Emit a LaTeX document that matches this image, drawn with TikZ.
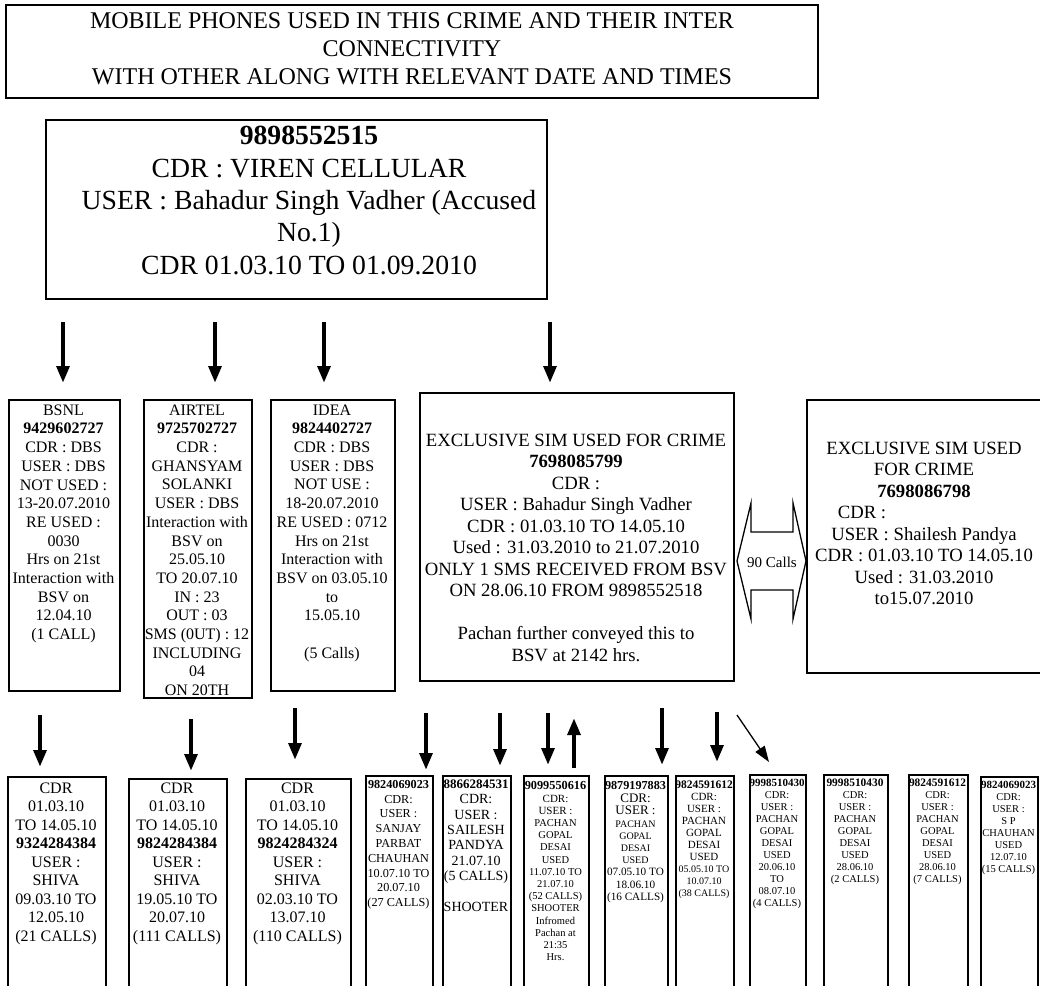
\documentclass[tikz,border=0pt]{standalone}
\usepackage{fontspec}
\setmainfont{Liberation Serif}
\usetikzlibrary{arrows.meta}
\newcommand\myfs[2]{\fontsize{#1}{#2}\selectfont}
\tikzset{
  box/.style={draw, line width=1.6pt, inner sep=0pt, anchor=north west},
  txt/.style={align=center, inner sep=0pt, anchor=north},
  bigarrow/.style={line width=4.5pt, -{Triangle[length=17pt,width=12.5pt]}},
  thinarrow/.style={line width=1.3pt, -{Triangle[length=16pt,width=11pt]}},
}
\begin{document}
\begin{tikzpicture}[x=1pt,y=-1pt]
\clip (0,0) rectangle (1040,985);
\fill[white] (0,0) rectangle (1040,985);

% header
\node[box, minimum width=812pt, minimum height=93pt] (hdr) at (5,4) {};
\node[txt, font=\myfs{24}{28}] (hdrt) at (412,12.6) {MOBILE PHONES USED IN THIS CRIME AND THEIR INTER\\CONNECTIVITY\\WITH OTHER ALONG WITH RELEVANT DATE AND TIMES};

% main phone
\node[box, minimum width=501pt, minimum height=179pt] (main) at (45,119) {};
\node[txt, font=\myfs{27.7}{32.3}] (maint) at (309,126.3) {\textbf{9898552515}\\CDR : VIREN CELLULAR\\USER : Bahadur Singh Vadher (Accused\\No.1)\\CDR 01.03.10 TO 01.09.2010};

% arrows from main box
\foreach \n/\x in {1/63,2/215,3/324,4/550}{
  \coordinate (ta\n) at (\x,322);
  \coordinate (tb\n) at (\x,383);
  \draw[bigarrow] (ta\n) -- (tb\n);
}

% middle row
\node[box, minimum width=111pt, minimum height=291pt] (bsnl) at (8,399) {};
\node[txt, font=\myfs{16}{18.7}] (bsnlt) at (63.5,404.4) {BSNL\\\textbf{9429602727}\\CDR : DBS\\USER : DBS\\NOT USED :\\13-20.07.2010\\RE USED :\\0030\\Hrs on 21st\\Interaction with\\BSV on\\12.04.10\\(1 CALL)};

\node[box, minimum width=108pt, minimum height=298pt] (airtel) at (143,399) {};
\node[txt, font=\myfs{16}{18.7}] (airtelt) at (197,404.4) {AIRTEL\\\textbf{9725702727}\\CDR :\\GHANSYAM\\SOLANKI\\USER : DBS\\Interaction with\\BSV on\\25.05.10\\TO 20.07.10\\IN : 23\\OUT : 03\\SMS (0UT) : 12\\INCLUDING\\04\\ON 20TH};

\node[box, minimum width=124pt, minimum height=291pt] (idea) at (270,399) {};
\node[txt, font=\myfs{16}{18.7}] (ideat) at (332,404.4) {IDEA\\\textbf{9824402727}\\CDR : DBS\\USER : DBS\\NOT USE :\\18-20.07.2010\\RE USED : 0712\\Hrs on 21st\\Interaction with\\BSV on 03.05.10\\to\\15.05.10\\[18.7pt](5 Calls)};

\node[box, minimum width=314pt, minimum height=288pt] (ex1) at (419,392) {};
\node[txt, font=\myfs{18.7}{21.5}] (ex1t) at (576,433.5) {EXCLUSIVE SIM USED FOR CRIME\\\textbf{7698085799}\\CDR :\\USER : Bahadur Singh Vadher\\CDR : 01.03.10 TO 14.05.10\\Used : 31.03.2010 to 21.07.2010\\ONLY 1 SMS RECEIVED FROM BSV\\ON 28.06.10 FROM 9898552518\\[21.5pt]Pachan further conveyed this to\\BSV at 2142 hrs.};

\node[box, minimum width=260pt, minimum height=273pt] (ex2) at (806,399) {};
\node[txt, font=\myfs{18.7}{21.5}] (ex2t) at (924,441.5) {EXCLUSIVE SIM USED\\FOR CRIME\\\textbf{7698086798}\\CDR :\rule{124pt}{0pt}\\USER : Shailesh Pandya\\CDR : 01.03.10 TO 14.05.10\\Used : 31.03.2010\\to15.07.2010};

% double arrow 90 calls
\draw[line width=1.3pt, line join=miter] (737,561) -- (751,503) -- (751,532) -- (793,532) -- (793,503) -- (806,561) -- (793,619) -- (793,590) -- (751,590) -- (751,619) -- cycle;
\node[font=\myfs{15}{17}, inner sep=0pt] (calls) at (772,562) {90 Calls};

% bottom arrows
\foreach \n/\x/\a/\b in {1/40/715/767,2/191/719/771,3/295/708/760,4/426/713/770,5/500/713/766,6/548/713/765,8/662/708/765,9/717/712/762}{
  \coordinate (ba\n) at (\x,\a);
  \coordinate (bb\n) at (\x,\b);
  \draw[bigarrow] (ba\n) -- (bb\n);
}
\coordinate (ba7) at (574,768);
\coordinate (bb7) at (574,718);
\draw[bigarrow] (ba7) -- (bb7);
\coordinate (ba10) at (737,715);
\coordinate (bb10) at (769,762);
\draw[thinarrow] (ba10) -- (bb10);

% bottom row
\node[box, minimum width=98pt, minimum height=230pt] (b1) at (7,776) {};
\node[txt, font=\myfs{16}{18.5}] (b1t) at (56,782.4) {CDR\\01.03.10\\TO 14.05.10\\\textbf{9324284384}\\USER :\\SHIVA\\09.03.10 TO\\12.05.10\\(21 CALLS)};

\node[box, minimum width=98pt, minimum height=230pt] (b2) at (128,778) {};
\node[txt, font=\myfs{16}{18.5}] (b2t) at (177,782.4) {CDR\\01.03.10\\TO 14.05.10\\\textbf{9824284384}\\USER :\\SHIVA\\19.05.10 TO\\20.07.10\\(111 CALLS)};

\node[box, minimum width=105pt, minimum height=230pt] (b3) at (245,778) {};
\node[txt, font=\myfs{16}{18.5}] (b3t) at (297.5,782.4) {CDR\\01.03.10\\TO 14.05.10\\\textbf{9824284324}\\USER :\\SHIVA\\02.03.10 TO\\13.07.10\\(110 CALLS)};

\node[box, minimum width=67pt, minimum height=230pt] (bA) at (365,775) {};
\node[txt, font=\myfs{12.2}{14.8}] (bAt) at (398.5,780) {\textbf{9824069023}\\CDR:\\USER :\\SANJAY\\PARBAT\\CHAUHAN\\10.07.10 TO\\20.07.10\\(27 CALLS)};

\node[box, minimum width=68pt, minimum height=230pt] (bB) at (442,775) {};
\node[txt, font=\myfs{14}{15.4}] (bBt) at (476,779.5) {{\myfs{13}{15.4}\textbf{8866284531}}\\CDR:\\USER :\\SAILESH\\PANDYA\\21.07.10\\(5 CALLS)\\[15.4pt]SHOOTER};

\node[box, minimum width=65pt, minimum height=230pt] (bC) at (523,775) {};
\node[txt, font=\myfs{10.5}{12.2}] (bCt) at (555.5,780.7) {{\myfs{12.3}{12.2}\textbf{9099550616}}\\[0.8pt]{\myfs{11}{12.2}CDR:}\\{\myfs{11}{12.2}USER :}\\PACHAN\\GOPAL\\DESAI\\USED\\11.07.10 TO\\21.07.10\\(52 CALLS)\\SHOOTER\\Infromed\\Pachan at\\21:35\\Hrs.};

\node[box, minimum width=63pt, minimum height=230pt] (bD) at (604,775) {};
\node[txt, font=\myfs{11.2}{12.2}] (bDt) at (635.5,780.7) {{\myfs{12.2}{12.2}\textbf{9879197883}}\\[1.5pt]{\myfs{13}{12.2}CDR:}\\{\myfs{13}{12.2}USER :}\\{\myfs{10}{12.2}PACHAN}\\{\myfs{10}{12.2}GOPAL}\\{\myfs{10}{12.2}DESAI}\\{\myfs{10}{12.2}USED}\\07.05.10 TO\\18.06.10\\(16 CALLS)};

\node[box, minimum width=58pt, minimum height=230pt] (bE) at (675,775) {};
\node[txt, font=\myfs{11}{12}] (bEt) at (704,780.9) {{\myfs{11.5}{12}\textbf{9824591612}}\\CDR:\\USER :\\PACHAN\\GOPAL\\DESAI\\USED\\{\myfs{10}{12}05.05.10 TO}\\{\myfs{10}{12}10.07.10}\\{\myfs{10}{12}(38 CALLS)}};

\node[box, minimum width=56pt, minimum height=230pt] (bF) at (749,774) {};
\node[txt, font=\myfs{10.5}{12}] (bFt) at (777,779.1) {{\myfs{11}{12}\textbf{9998510430}}\\CDR:\\USER :\\PACHAN\\GOPAL\\DESAI\\USED\\20.06.10\\TO\\08.07.10\\(4 CALLS)};

\node[box, minimum width=64pt, minimum height=230pt] (bG) at (823,774) {};
\node[txt, font=\myfs{10.5}{12}] (bGt) at (855,779) {{\myfs{11.4}{12}\textbf{9998510430}}\\CDR:\\USER :\\PACHAN\\GOPAL\\DESAI\\USED\\28.06.10\\(2 CALLS)};

\node[box, minimum width=59pt, minimum height=230pt] (bH) at (908,774) {};
\node[txt, font=\myfs{10.5}{12}] (bHt) at (937.5,779) {{\myfs{11.4}{12}\textbf{9824591612}}\\CDR:\\USER :\\PACHAN\\GOPAL\\DESAI\\USED\\28.06.10\\(7 CALLS)};

\node[box, minimum width=57pt, minimum height=230pt] (bI) at (980,776) {};
\node[txt, font=\myfs{10.5}{12}] (bIt) at (1008.5,781) {{\myfs{11}{12}\textbf{9824069023}}\\CDR:\\USER :\\S P\\CHAUHAN\\USED\\12.07.10\\(15 CALLS)};
\end{tikzpicture}
\end{document}
